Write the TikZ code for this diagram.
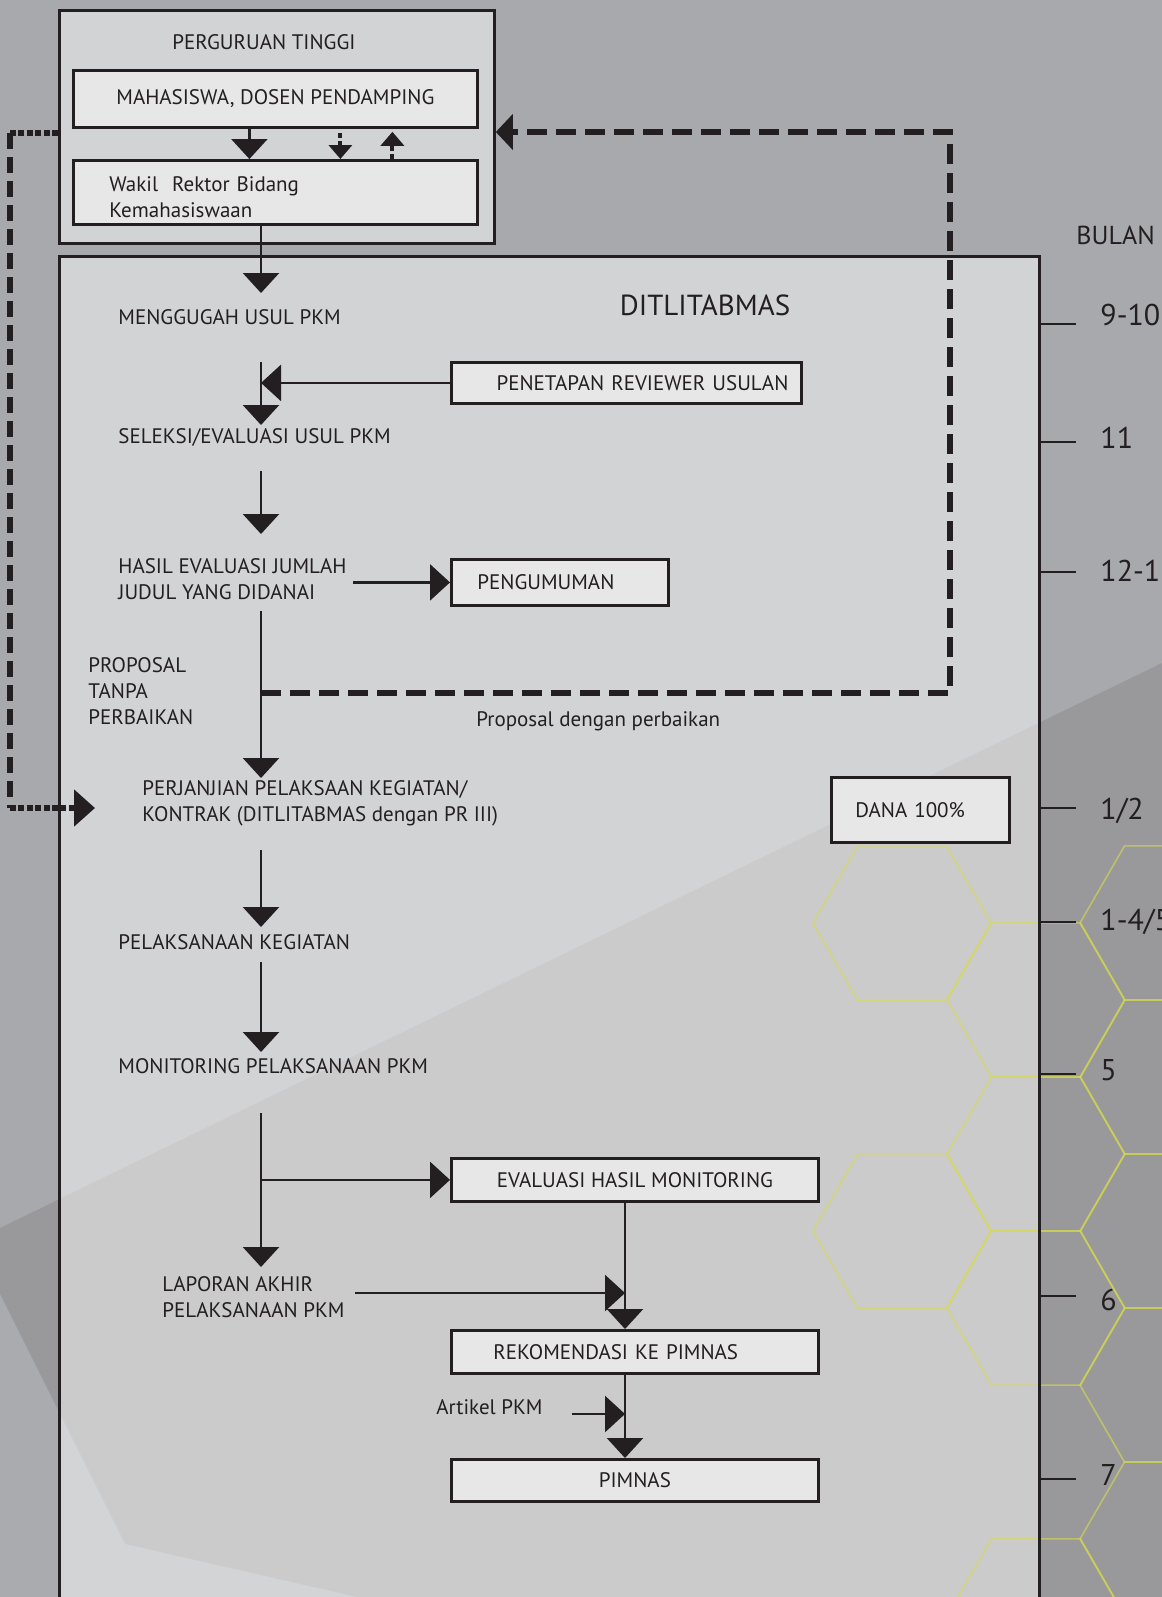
\documentclass[tikz,border=0pt]{standalone}
\usepackage{fontspec}
\setmainfont{PT Sans}
\usetikzlibrary{arrows.meta,calc}

\definecolor{ink}{RGB}{35,31,32}
\definecolor{bgtop}{RGB}{168,169,172}
\definecolor{bgdark}{RGB}{153,153,155}
\definecolor{bglight}{RGB}{170,171,174}
\definecolor{boxtop}{RGB}{210,211,213}
\definecolor{boxdark}{RGB}{203,203,204}
\definecolor{boxlight}{RGB}{211,212,214}
\definecolor{cellfill}{RGB}{231,231,232}
\definecolor{hexgreen}{RGB}{214,220,72}

\tikzstyle{block} = [rectangle, draw=ink, line width=1.4pt, fill=cellfill, text=ink,
    inner sep=0pt, anchor=north west, font=\fontsize{10.5}{13}\selectfont]
\tikzstyle{lbl} = [anchor=west, inner sep=0pt, align=left, text=ink,
    font=\fontsize{10.5}{13}\selectfont]
\tikzstyle{tick} = [anchor=west, inner sep=0pt, text=ink, font=\fontsize{15}{17}\selectfont]
\tikzstyle{flow} = [draw=ink, line width=1.3pt, -{Triangle[length=10pt,width=18pt]}]
\tikzstyle{dotflow} = [draw=ink, line width=2pt, dash pattern=on 2.5pt off 1.5pt,
    -{Triangle[length=7pt,width=11.5pt]}]
\tikzstyle{loopline} = [draw=ink, line width=3pt, dash pattern=on 10pt off 4.5pt,
    line join=miter, -{Triangle[length=8.5pt,width=17.5pt]}]
\tikzstyle{dashline} = [draw=ink, line width=3pt, dash pattern=on 8pt off 4pt]
\tikzstyle{dotline} = [draw=ink, line width=3pt, dash pattern=on 3pt off 1.2pt]
\tikzstyle{hexline} = [draw=hexgreen, draw opacity=0.6, line width=0.8pt]

\begin{document}
\begin{tikzpicture}[x=0.5pt,y=-0.5pt]
  \useasboundingbox (0,0) rectangle (1162,1597);

  % background
  \fill[bgtop] (0,0) rectangle (1162,1597);
  \fill[bgdark] (0,1228) -- (1162,663) -- (1162,1597) -- (0,1597) -- cycle;
  \fill[bglight] (0,1294) -- (125,1544) -- (357,1597) -- (0,1597) -- cycle;
  \fill[boxtop] (58,255) rectangle (1038,1597);
  \begin{scope}
    \clip (58,255) rectangle (1038,1597);
    \fill[boxdark] (0,1228) -- (1162,663) -- (1162,1597) -- (0,1597) -- cycle;
    \fill[boxlight] (0,1294) -- (125,1544) -- (357,1597) -- (0,1597) -- cycle;
  \end{scope}

  % honeycomb
  \foreach \cx/\cy in {902/923, 902/1231, 1036/1000, 1036/1154, 1036/1308, 1036/1616,
                       1169/923, 1169/1077, 1169/1231, 1169/1385, 1169/1539}
    \draw[hexline] (\cx,\cy) ++(0:89) -- ++(120:89) -- ++(180:89) -- ++(240:89)
                   -- ++(300:89) -- ++(0:89) -- cycle;

  % frames
  \node[draw=ink, line width=1.4pt, minimum width=490pt, minimum height=680pt,
        anchor=north west, inner sep=0pt] (dit) at (58,255) {};
  \node[draw=ink, line width=1.4pt, fill=boxtop, minimum width=217.5pt,
        minimum height=116.5pt, anchor=north west, inner sep=0pt] (pt) at (58,9) {};
  \node[lbl, anchor=center] (ptname) at (264,42) {PERGURUAN TINGGI};
  \node[text=ink, font=\fontsize{14.5}{16}\selectfont] (ditname) at (705,305) {DITLITABMAS};

  \node[block, minimum width=202pt, minimum height=28.5pt] (mhs) at (72,69)
       {MAHASISWA, DOSEN PENDAMPING};
  \node[block, minimum width=202pt, minimum height=32pt, text width=166pt,
        inner xsep=18pt, align=left] (wakil) at (72,159)
       {\rule{0pt}{12.5pt}Wakil\ \ Rektor Bidang\\Kemahasiswaan};

  % flow labels
  \node[lbl] (gugah) at (118,317) {MENGGUGAH USUL PKM};
  \node[lbl] (seleksi) at (118,437) {SELEKSI/EVALUASI USUL PKM};
  \node[lbl] (hasil) at (118,579) {HASIL EVALUASI JUMLAH\\JUDUL YANG DIDANAI};
  \node[lbl] (tanpa) at (88,691) {PROPOSAL\\TANPA\\PERBAIKAN};
  \node[lbl] (perbaikan) at (476,721) {Proposal dengan perbaikan};
  \node[lbl] (perjanjian) at (142,803)
       {PERJANJIAN PELAKSAAN KEGIATAN/\\KONTRAK (DITLITABMAS dengan PR III)};
  \node[lbl] (laksana) at (118,942) {PELAKSANAAN KEGIATAN};
  \node[lbl] (monitor) at (118,1066) {MONITORING PELAKSANAAN PKM};
  \node[lbl] (laporan) at (162,1297) {LAPORAN AKHIR\\PELAKSANAAN PKM};
  \node[lbl] (artikel) at (436,1407) {Artikel PKM};

  % boxes
  \node[block, minimum width=175pt, minimum height=20.5pt, text width=162pt,
        inner xsep=6.5pt, align=right] (reviewer) at (450,361) {PENETAPAN REVIEWER USULAN};
  \node[block, minimum width=108.5pt, minimum height=23pt, text width=82.5pt,
        inner xsep=13pt, align=left] (umum) at (450,558) {PENGUMUMAN};
  \node[block, minimum width=89pt, minimum height=32.5pt, text width=65pt,
        inner xsep=12pt, align=left] (dana) at (830,776) {DANA 100\%};
  \node[block, minimum width=183.5pt, minimum height=21.5pt] (evalmon) at (450,1157)
       {EVALUASI HASIL MONITORING};
  \node[block, minimum width=183.5pt, minimum height=21.5pt, text width=141.5pt,
        inner xsep=21pt, align=left] (rekom) at (450,1329) {REKOMENDASI KE PIMNAS};
  \node[block, minimum width=183.5pt, minimum height=21pt] (pimnas) at (450,1458) {PIMNAS};

  % helper points
  \coordinate (sp) at (261,0);
  \coordinate (vx) at (625,0);
  \coordinate (br) at (261,693);
  \coordinate (rt) at (950,132);
  \coordinate (lt) at (10,133);
  \coordinate (lb) at (10,808);
  \coordinate (pjin) at (95,808);
  \coordinate (lj) at (625,1293);
  \coordinate (aj) at (625,1414);
  \coordinate (ak) at (572,1414);

  % inside perguruan tinggi
  \draw[flow] ([xshift=-13pt]mhs.south) -- ([xshift=-13pt]wakil.north);
  \draw[dotflow] ([xshift=32.5pt,yshift=-2pt]mhs.south) -- ([xshift=32.5pt]wakil.north);
  \draw[dotflow] ([xshift=58.5pt]wakil.north) -- ([xshift=58.5pt,yshift=-1.5pt]mhs.south);

  % main spine
  \draw[flow] (wakil.south -| sp) -- ($(gugah.center -| sp)+(0,-24)$);
  \draw[flow] ($(gugah.center -| sp)+(0,45)$) -- ($(seleksi.center -| sp)+(0,-12)$);
  \draw[flow] (reviewer.west) -- (reviewer.west -| sp);
  \draw[flow] ($(seleksi.center -| sp)+(0,34)$) -- ($(hasil.center -| sp)+(0,-45)$);
  \draw[flow, shorten <=3pt] (hasil.east |- umum.west) -- (umum.west);
  \draw[flow] ($(hasil.center -| sp)+(0,32)$) -- ($(perjanjian.center -| sp)+(0,-25)$);
  \draw[flow] ($(perjanjian.center -| sp)+(0,47)$) -- ($(laksana.center -| sp)+(0,-15)$);
  \draw[flow] ($(laksana.center -| sp)+(0,20)$) -- ($(monitor.center -| sp)+(0,-14)$);
  \draw[flow] ($(monitor.center -| sp)+(0,47)$) -- ($(laporan.center -| sp)+(0,-30)$);
  \draw[flow] (evalmon.west -| sp) -- (evalmon.west);
  \draw[flow] (evalmon.south -| vx) -- (rekom.north -| vx);
  \draw[flow, shorten <=5pt] (laporan.east |- lj) -- (lj);
  \draw[flow] (rekom.south -| vx) -- (pimnas.north -| vx);
  \draw[flow] (ak) -- (aj);

  % revision loops
  \draw[loopline] (br) -| (rt) -- (rt -| pt.east);
  \draw[dotline] (lt -| pt.west) -- (lt);
  \draw[dashline] (lt) -- (lb);
  \draw[dotline, -{Triangle[length=10.5pt,width=18pt]}] (lb) -- (pjin);

  % month scale
  \node[tick, font=\fontsize{13}{15}\selectfont] (bulan) at (1076,235) {BULAN};
  \foreach \y/\ty/\t in {324/315/9-10, 442/438/11, 572/571/12-1, 808/811/{1/2},
                         922/922/{1-4/5}, 1074/1070/5, 1296/1300/6, 1479/1475/7} {
    \draw[ink, line width=1.3pt] (1038,\y) -- (1076,\y);
    \node[tick] (m\y) at (1100,\ty) {\t};
  }
\end{tikzpicture}
\end{document}
